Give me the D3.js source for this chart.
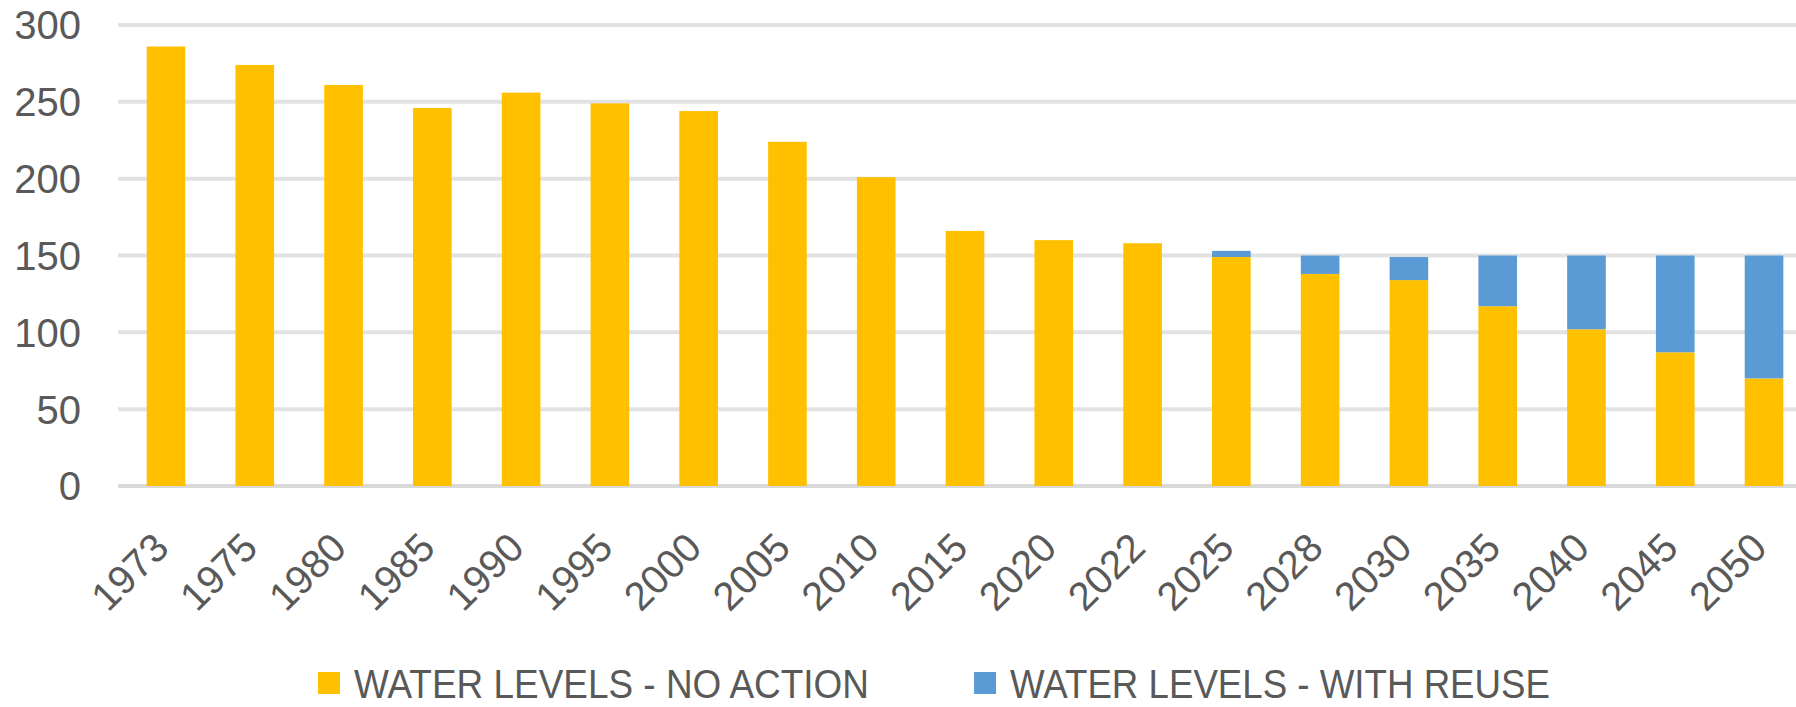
<!DOCTYPE html>
<html>
<head>
<meta charset="utf-8">
<script src="https://cdn.jsdelivr.net/npm/d3@7"></script>
<style>
  body { margin: 0; background: #fff; }
  svg { display: block; }
  text { font-family: "Liberation Sans", Arial, sans-serif; fill: #595959; }
</style>
</head>
<body>
<svg id="chart"></svg>
<script>
// Data
const years = ["1973", "1975", "1980", "1985", "1990", "1995", "2000", "2005", "2010",
  "2015", "2020", "2022", "2025", "2028", "2030", "2035", "2040", "2045", "2050"];
const noAction = [286, 274, 261, 246, 256, 249, 244, 224, 201, 166, 160, 158, 149, 138, 134, 117, 102, 87, 70];
const withReuse = [0, 0, 0, 0, 0, 0, 0, 0, 0, 0, 0, 0, 4, 12, 15, 33, 48, 63, 80];
const yTicks = [0, 50, 100, 150, 200, 250, 300];
const seriesNames = ["WATER LEVELS - NO ACTION", "WATER LEVELS - WITH REUSE"];
const colors = ["#FFC000", "#5B9BD5"];

const width = 1796;
const height = 707;
const plot = { left: 121.6, step: 88.78, top: 25, bottom: 486 };

const svg = d3.select("#chart").attr("width", width).attr("height", height);

const x = d3
  .scaleBand()
  .domain(years)
  .range([plot.left, plot.left + plot.step * years.length])
  .paddingInner(0.565)
  .paddingOuter(0.2825);

const y = d3.scaleLinear().domain([0, 300]).range([plot.bottom, plot.top]);

// gridlines
svg
  .append("g")
  .selectAll("line")
  .data(yTicks)
  .enter()
  .append("line")
  .attr("x1", 118)
  .attr("x2", width)
  .attr("y1", (d) => y(d))
  .attr("y2", (d) => y(d))
  .attr("stroke", (d) => (d === 0 ? "#d9d9d9" : "#e2e2e2"))
  .attr("stroke-width", 4);

// y tick labels
svg
  .append("g")
  .selectAll("text")
  .data(yTicks)
  .enter()
  .append("text")
  .attr("x", 81)
  .attr("y", (d) => y(d))
  .attr("dy", "0.36em")
  .attr("text-anchor", "end")
  .attr("font-size", "40px")
  .text((d) => d);

// stacked bars
const table = years.map((yr, i) => ({ year: yr, a: noAction[i], b: withReuse[i] }));
const stacked = d3.stack().keys(["a", "b"])(table);

svg
  .append("g")
  .selectAll("g")
  .data(stacked)
  .enter()
  .append("g")
  .attr("fill", (d, i) => colors[i])
  .selectAll("rect")
  .data((d) => d)
  .enter()
  .append("rect")
  .attr("x", (d) => x(d.data.year))
  .attr("width", x.bandwidth())
  .attr("y", (d) => y(d[1]))
  .attr("height", (d) => y(d[0]) - y(d[1]));

// x labels, rotated
svg
  .append("g")
  .selectAll("text")
  .data(years)
  .enter()
  .append("text")
  .attr("text-anchor", "end")
  .attr("font-size", "40px")
  .attr("transform", (d) => `translate(${x(d) + x.bandwidth() / 2 + 5}, 550) rotate(-45)`)
  .text((d) => d);

// legend
const legendPos = [
  { mx: 318, tx: 354, len: 515 },
  { mx: 974, tx: 1010, len: 540 },
];
const legend = svg
  .append("g")
  .selectAll("g")
  .data(seriesNames)
  .enter()
  .append("g");

legend
  .append("rect")
  .attr("x", (d, i) => legendPos[i].mx)
  .attr("y", 672)
  .attr("width", 22)
  .attr("height", 22)
  .attr("fill", (d, i) => colors[i]);

legend
  .append("text")
  .attr("x", (d, i) => legendPos[i].tx)
  .attr("y", 698)
  .attr("font-size", "41px")
  .attr("textLength", (d, i) => legendPos[i].len)
  .attr("lengthAdjust", "spacingAndGlyphs")
  .text((d) => d);
</script>
</body>
</html>
